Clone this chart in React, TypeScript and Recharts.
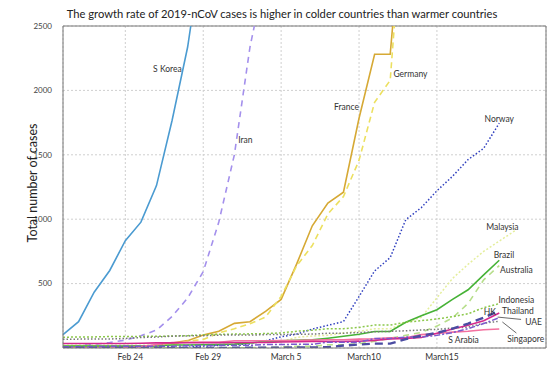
import React from "react";
import {
  LineChart,
  Line,
  XAxis,
  YAxis,
  CartesianGrid,
  ReferenceLine,
  ReferenceDot,
} from "recharts";

// one entry per day, Feb 20 .. Mar 20 (x = index)
const dates = [
  "Feb 20", "Feb 21", "Feb 22", "Feb 23", "Feb 24", "Feb 25", "Feb 26", "Feb 27", "Feb 28", "Feb 29",
  "Mar 1", "Mar 2", "Mar 3", "Mar 4", "Mar 5", "Mar 6", "Mar 7", "Mar 8", "Mar 9", "Mar 10",
  "Mar 11", "Mar 12", "Mar 13", "Mar 14", "Mar 15", "Mar 16", "Mar 17", "Mar 18", "Mar 19", "Mar 20",
];
const tickDays = [4, 9, 14, 19, 24];
const tickLabels = ["Feb 24", "Feb 29", "March 5", "March10", "March15"];
const yTicks = [500, 1000, 1500, 2000, 2500];

const sKorea = [104, 204, 433, 602, 833, 977, 1261, 1766, 2337, 3150];
const iran = [5, 18, 28, 43, 61, 95, 139, 245, 388, 593, 978, 1501, 2336, 2922];
const france = [12, 12, 12, 12, 12, 14, 18, 38, 57, 100, 130, 191, 204, 285, 377, 653, 949, 1126, 1209, 1784, 2281, 2281, 3661];
const germany = [16, 16, 16, 16, 16, 16, 21, 26, 53, 66, 117, 150, 188, 240, 400, 639, 795, 1040, 1176, 1457, 1908, 2078, 3675];
const norway = [0, 0, 0, 0, 0, 0, 1, 1, 6, 15, 19, 25, 32, 56, 87, 108, 147, 176, 205, 400, 598, 702, 996, 1090, 1221, 1333, 1463, 1550, 1746];
const malaysia = [22, 22, 22, 22, 22, 22, 22, 23, 25, 25, 29, 29, 36, 50, 50, 83, 93, 99, 117, 129, 149, 149, 197, 238, 390, 540, 650, 750, 830, 910];
const brazil = [15, 15, 15, 15, 15, 15, 15, 23, 23, 25, 27, 30, 39, 52, 55, 60, 63, 76, 91, 107, 128, 128, 200, 250, 297, 377, 452, 568, 681];
const australia = [0, 0, 0, 0, 0, 0, 1, 1, 1, 2, 2, 2, 2, 4, 8, 13, 13, 25, 25, 34, 52, 77, 98, 121, 170, 234, 346, 529, 640];
const indonesia = [84, 85, 86, 89, 89, 90, 91, 93, 96, 102, 106, 108, 110, 112, 117, 130, 138, 150, 150, 160, 178, 178, 200, 212, 226, 243, 266, 313, 345];
const hk = [0, 0, 0, 0, 0, 0, 0, 0, 0, 0, 0, 2, 2, 2, 2, 4, 4, 6, 19, 27, 34, 34, 69, 96, 117, 150, 190, 235, 290];
const thailand = [35, 35, 35, 35, 35, 37, 40, 40, 41, 42, 42, 43, 43, 43, 47, 48, 50, 50, 50, 53, 59, 70, 75, 82, 114, 147, 177, 212, 272];
const uae = [9, 9, 11, 13, 13, 13, 13, 13, 19, 19, 21, 21, 21, 27, 27, 29, 29, 45, 45, 45, 74, 74, 85, 85, 98, 120, 150, 190, 235];
const singapore = [68, 69, 69, 70, 74, 81, 85, 92, 94, 95, 100, 100, 100, 104, 105, 107, 108, 114, 115, 120, 126, 129, 134, 140, 145, 155, 162, 192, 208];
const sArabia = [0, 0, 0, 0, 1, 11, 26, 43, 45, 45, 45, 56, 56, 56, 58, 58, 61, 64, 64, 69, 72, 80, 80, 104, 112, 123, 130, 142, 148];

const series = [
  { key: "sKorea", values: sKorea, color: "#4b9bd1", width: 1.6, dash: undefined },
  { key: "iran", values: iran, color: "#a490ec", width: 1.6, dash: "6 5" },
  { key: "france", values: france, color: "#d6a935", width: 1.6, dash: undefined },
  { key: "germany", values: germany, color: "#ece060", width: 1.6, dash: "6 4" },
  { key: "norway", values: norway, color: "#2f3fbf", width: 1.5, dash: "1.5 2" },
  { key: "malaysia", values: malaysia, color: "#e4ee9c", width: 1.5, dash: "2 2" },
  { key: "brazil", values: brazil, color: "#46b236", width: 1.6, dash: undefined },
  { key: "australia", values: australia, color: "#b6de8a", width: 1.6, dash: "6 5" },
  { key: "indonesia", values: indonesia, color: "#8cc84b", width: 1.5, dash: "2 2" },
  { key: "singapore", values: singapore, color: "#777777", width: 1.5, dash: "1.5 2" },
  { key: "sArabia", values: sArabia, color: "#f3709f", width: 1.6, dash: undefined },
  { key: "thailand", values: thailand, color: "#d4288c", width: 1.6, dash: undefined },
  { key: "uae", values: uae, color: "#7a5acd", width: 1.5, dash: "6 2 2 2" },
  { key: "hk", values: hk, color: "#4b4ca2", width: 2.4, dash: "8 5" },
];

// annotation text, placed in data coordinates (day, cases)
const seriesLabels = [
  { text: "S Korea", day: 6.7, cases: 2166 },
  { text: "Iran", day: 11.7, cases: 1615 },
  { text: "France", day: 18.2, cases: 1871 },
  { text: "Germany", day: 22.3, cases: 2127 },
  { text: "Norway", day: 28.0, cases: 1778 },
  { text: "Malaysia", day: 28.2, cases: 939 },
  { text: "Brazil", day: 28.3, cases: 722 },
  { text: "Australia", day: 29.1, cases: 606 },
  { text: "Indonesia", day: 29.1, cases: 373 },
  { text: "HK", day: 27.4, cases: 280 },
  { text: "Thailand", day: 29.2, cases: 290 },
  { text: "UAE", day: 30.2, cases: 200 },
  { text: "Singapore", day: 29.7, cases: 70 },
  { text: "S Arabia", day: 25.7, cases: 62 },
];
const pointers = [
  [{ x: 29.4, y: 222 }, { x: 27.9, y: 240 }],
  [{ x: 29.1, y: 116 }, { x: 28.2, y: 202 }],
];

const data = dates.map((d, i) => {
  const row: Record<string, any> = { day: i, date: d };
  series.forEach((s) => {
    row[s.key] = i < s.values.length ? s.values[i] : null;
  });
  return row;
});

const font = "Lato, 'Open Sans', sans-serif";

export default function App() {
  return (
    <div style={{ position: "fixed", left: 0, top: 0, width: 557, height: 373, background: "#fff", fontFamily: font }}>
      <LineChart width={557} height={373} data={data} margin={{ top: 26, right: 11, left: 0, bottom: 0 }}>
        <CartesianGrid stroke="#cfcfcf" strokeDasharray="2 2" />
        <XAxis
          type="number"
          dataKey="day"
          domain={[0, 31]}
          ticks={tickDays}
          tickFormatter={(v: number) => tickLabels[tickDays.indexOf(v)]}
          height={25}
          stroke="#777"
          tickLine={false}
          tickSize={4}
          tickMargin={2}
          tick={{ fontSize: 8.5, fill: "#333", fontFamily: font, dx: 5 }}
        />
        <YAxis
          domain={[0, 2500]}
          ticks={yTicks}
          allowDataOverflow
          width={63}
          stroke="#777"
          tickLine={false}
          tickSize={4}
          tickMargin={7}
          tick={{ fontSize: 8, fill: "#444", fontFamily: font }}
        />
        <ReferenceLine y={2500} stroke="#777" />
        <ReferenceLine x={31} stroke="#777" />
        {series.map((s) => (
          <Line
            key={s.key}
            dataKey={s.key}
            type="linear"
            stroke={s.color}
            strokeWidth={s.width}
            strokeDasharray={s.dash}
            dot={false}
            isAnimationActive={false}
          />
        ))}
        {pointers.map((seg, i) => (
          <ReferenceLine key={i} segment={seg} stroke="#444" strokeWidth={0.8} />
        ))}
        {seriesLabels.map((l) => (
          <ReferenceDot
            key={l.text}
            x={l.day}
            y={l.cases}
            r={0}
            fill="none"
            stroke="none"
            label={{ value: l.text, position: "center", fontSize: 8.5, fill: "#333", fontFamily: font }}
          />
        ))}
      </LineChart>
      <svg width={557} height={373} style={{ position: "absolute", left: 0, top: 0, pointerEvents: "none" }}>
        <text x={282} y={18} textAnchor="middle" fontSize={11.2} fill="#222" fontFamily={font}>
          The growth rate of 2019-nCoV cases is higher in colder countries than warmer countries
        </text>
        <text
          transform="translate(32,183) rotate(-90)"
          textAnchor="middle"
          dominantBaseline="central"
          fontSize={12.5}
          fill="#222"
          fontFamily={font}
        >
          Total number of cases
        </text>
      </svg>
    </div>
  );
}
